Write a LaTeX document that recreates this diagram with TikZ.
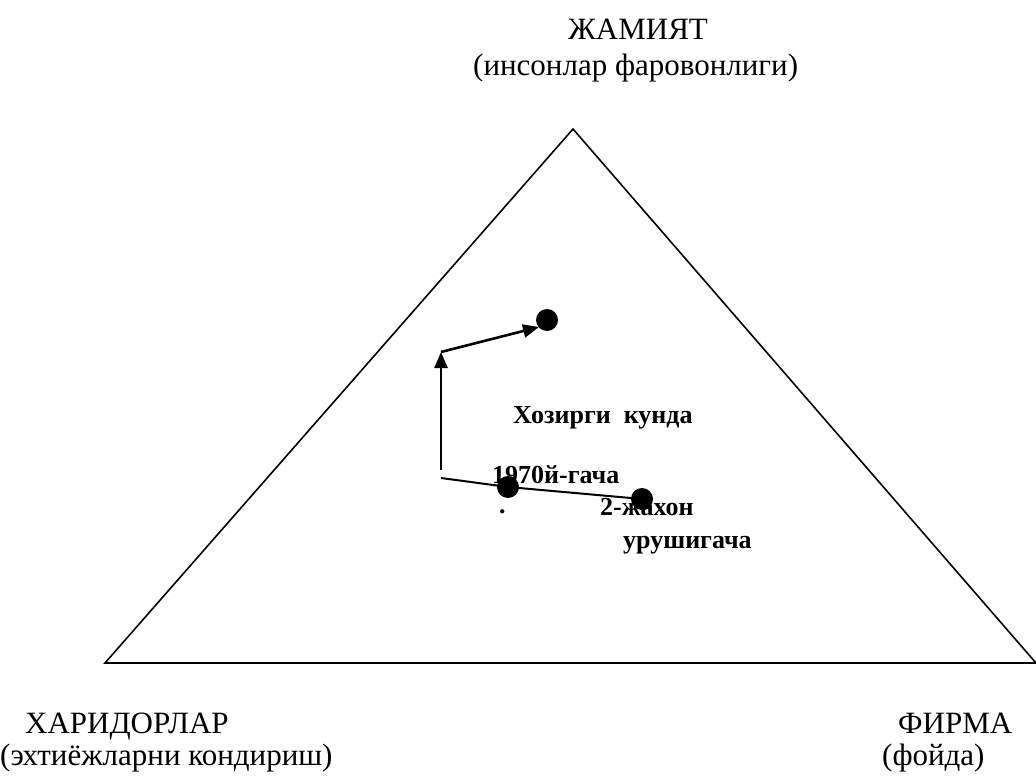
\documentclass[tikz,border=0pt]{standalone}
\usepackage{fontspec}
\setmainfont{Liberation Serif}
\usetikzlibrary{arrows.meta}
\begin{document}
\begin{tikzpicture}[x=1pt,y=-1pt,
  big/.style={font=\fontsize{31}{34}\selectfont, inner sep=0pt, anchor=base west},
  lab/.style={font=\fontsize{26}{30}\selectfont\bfseries, inner sep=0pt, anchor=base west},
  dotnode/.style={circle, fill=black, inner sep=0pt, minimum size=22pt},
  edge/.style={line width=1.6pt},
  arr/.style={line width=2.6pt, -{Triangle[length=16pt,width=13pt]}},
]
\useasboundingbox (0,0) rectangle (1036,776);
% triangle
\coordinate (A) at (573,129);
\coordinate (L) at (105,663);
\coordinate (R) at (1036,663);
\draw[edge] (A) -- (L) -- (R) -- cycle;
% labels at vertices
\node[big] (t1) at (568,40) {ЖАМИЯТ};
\node[big] (t2) at (473,75) {(инсонлар фаровонлиги)};
\node[big] (l1) at (25,733) {ХАРИДОРЛАР};
\node[big] (l2) at (0,765) {(эхтиёжларни кондириш)};
\node[big] (r1) at (898,733) {ФИРМА};
\node[big] (r2) at (882,765) {(фойда)};
% dots
\node[dotnode] (d1) at (642,499) {};
\node[dotnode] (d2) at (508,487) {};
\node[dotnode] (d3) at (547,320) {};
\coordinate (s) at (441,478);
\coordinate (v0) at (441,470);
\coordinate (v1) at (441,352);
\coordinate (h1) at (539,327);
% connectors
\draw[line width=2pt] (s) -- (d2.center) -- (d1.center);
\draw[arr] (v0) -- (v1);
\draw[arr] (v1) -- (h1);
% text labels
\node[lab] (k) at (513,423) {Хозирги\ \ кунда};
\node[lab] (y1) at (492,483) {1970й-гача};
\node[lab] (y2) at (600,515) {2-жахон};
\node[lab] (y3) at (623,548) {урушигача};
\node[lab] (pt) at (499,513) {.};
\end{tikzpicture}
\end{document}
